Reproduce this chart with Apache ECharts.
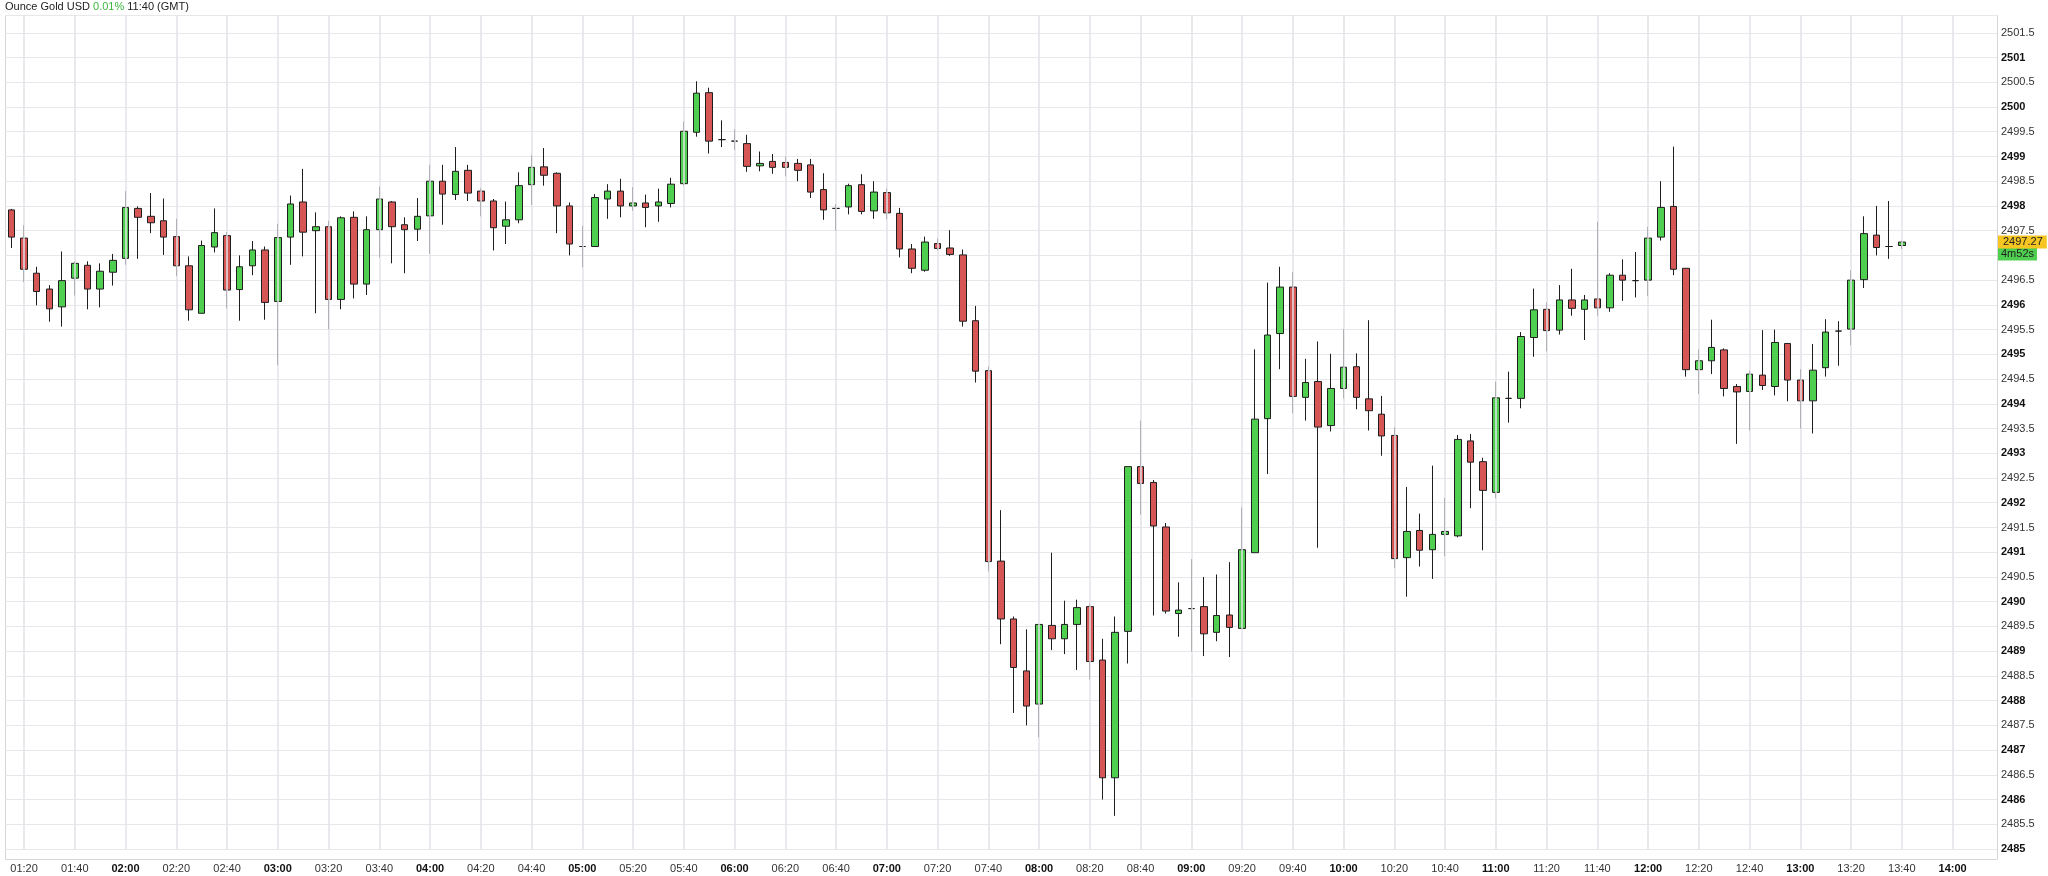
<!DOCTYPE html>
<html>
<head>
<meta charset="utf-8">
<script src="https://cdn.jsdelivr.net/npm/echarts@6/dist/echarts.min.js"></script>
<style>
  html, body { margin: 0; padding: 0; background: #fff; }
  #chart { width: 2048px; height: 876px; }
</style>
</head>
<body>
<div id="chart"></div>
<script>
// 5 minute candles, 01:15 .. 13:40 (GMT)
const opens = [
  2497.92, 2497.35, 2496.64, 2496.32, 2495.96, 2496.54, 2496.80, 2496.32, 2496.66, 2496.94,
  2497.95, 2497.79, 2497.70, 2497.38, 2496.79, 2495.83, 2497.17, 2497.40, 2496.31, 2496.79,
  2497.11, 2496.07, 2497.37, 2498.08, 2497.50, 2497.58, 2496.11, 2497.77, 2496.42, 2497.52,
  2498.08, 2497.62, 2497.53, 2497.80, 2498.50, 2498.23, 2498.72, 2498.30, 2498.10, 2497.59,
  2497.72, 2498.43, 2498.79, 2498.66, 2498.00, 2497.18, 2497.18, 2498.14, 2498.30, 2498.00,
  2498.06, 2498.00, 2498.05, 2498.45, 2499.49, 2500.29, 2499.34, 2499.31, 2499.26, 2498.81,
  2498.90, 2498.88, 2498.86, 2498.83, 2498.33, 2497.95, 2497.98, 2498.43, 2497.90, 2498.27,
  2497.85, 2497.13, 2496.70, 2497.24, 2497.15, 2497.01, 2495.68, 2494.67, 2490.82, 2489.65,
  2488.60, 2487.93, 2489.52, 2489.25, 2489.54, 2489.90, 2488.82, 2486.44, 2489.40, 2492.73,
  2492.41, 2491.51, 2489.76, 2489.86, 2489.90, 2489.38, 2489.73, 2489.46, 2490.99, 2493.70,
  2495.42, 2496.36, 2494.13, 2494.45, 2493.56, 2494.31, 2494.75, 2494.10, 2493.79, 2493.36,
  2490.89, 2491.44, 2491.05, 2491.36, 2491.33, 2493.25, 2492.83, 2492.21, 2494.11, 2494.11,
  2495.34, 2495.91, 2495.49, 2496.10, 2495.91, 2496.12, 2495.94, 2496.60, 2496.49, 2496.50,
  2497.37, 2497.99, 2496.74, 2494.69, 2494.87, 2495.09, 2494.35, 2494.25, 2494.58, 2494.35,
  2495.22, 2494.48, 2494.06, 2494.73, 2495.47, 2495.51, 2496.51, 2497.41, 2497.18, 2497.20
];
const closes = [
  2497.37, 2496.72, 2496.27, 2495.92, 2496.49, 2496.84, 2496.32, 2496.68, 2496.90, 2497.97,
  2497.77, 2497.66, 2497.37, 2496.79, 2495.90, 2497.20, 2497.46, 2496.30, 2496.77, 2497.11,
  2496.05, 2497.36, 2498.04, 2497.47, 2497.58, 2496.11, 2497.76, 2496.42, 2497.52, 2498.14,
  2497.58, 2497.52, 2497.79, 2498.50, 2498.24, 2498.70, 2498.26, 2498.10, 2497.56, 2497.72,
  2498.41, 2498.78, 2498.62, 2498.00, 2497.23, 2497.18, 2498.17, 2498.30, 2498.00, 2498.06,
  2497.97, 2498.08, 2498.44, 2499.51, 2500.28, 2499.31, 2499.34, 2499.31, 2498.80, 2498.86,
  2498.78, 2498.78, 2498.72, 2498.28, 2497.92, 2497.95, 2498.41, 2497.89, 2498.28, 2497.86,
  2497.13, 2496.74, 2497.27, 2497.14, 2497.02, 2495.67, 2494.66, 2490.81, 2489.65, 2488.67,
  2487.89, 2489.54, 2489.25, 2489.54, 2489.88, 2488.79, 2486.44, 2489.38, 2492.73, 2492.39,
  2491.53, 2489.81, 2489.83, 2489.86, 2489.35, 2489.72, 2489.48, 2491.05, 2493.69, 2495.39,
  2496.36, 2494.15, 2494.43, 2493.53, 2494.31, 2494.74, 2494.13, 2493.86, 2493.35, 2490.87,
  2491.42, 2491.04, 2491.36, 2491.42, 2493.28, 2492.82, 2492.25, 2494.12, 2494.11, 2495.36,
  2495.90, 2495.48, 2496.10, 2495.93, 2496.10, 2495.94, 2496.60, 2496.50, 2496.49, 2497.35,
  2497.97, 2496.72, 2494.69, 2494.87, 2495.14, 2494.31, 2494.24, 2494.60, 2494.37, 2495.24,
  2494.48, 2494.06, 2494.68, 2495.45, 2495.47, 2496.50, 2497.44, 2497.16, 2497.18, 2497.27
];
const lows = [
  2497.15, 2496.46, 2495.99, 2495.66, 2495.56, 2496.19, 2495.91, 2495.95, 2496.39, 2496.81,
  2496.93, 2497.45, 2497.01, 2496.58, 2495.68, 2495.83, 2497.06, 2495.93, 2495.68, 2496.60,
  2495.70, 2494.78, 2496.81, 2496.98, 2495.83, 2495.51, 2495.91, 2496.13, 2496.20, 2496.96,
  2496.84, 2496.64, 2497.29, 2497.03, 2497.62, 2498.12, 2498.10, 2497.79, 2497.10, 2497.23,
  2497.65, 2498.02, 2498.41, 2497.45, 2497.00, 2496.76, 2497.17, 2497.74, 2497.77, 2497.90,
  2497.57, 2497.68, 2497.97, 2498.41, 2499.40, 2499.06, 2499.19, 2499.13, 2498.69, 2498.70,
  2498.65, 2498.60, 2498.50, 2498.16, 2497.72, 2497.50, 2497.83, 2497.83, 2497.74, 2497.73,
  2496.96, 2496.64, 2496.67, 2497.10, 2496.99, 2495.56, 2494.43, 2490.61, 2489.14, 2487.75,
  2487.50, 2487.26, 2489.02, 2488.94, 2488.62, 2488.43, 2486.00, 2485.67, 2488.75, 2491.76,
  2489.72, 2489.76, 2489.29, 2488.99, 2488.90, 2489.20, 2488.88, 2489.44, 2490.99, 2492.58,
  2494.70, 2493.81, 2493.66, 2491.09, 2493.44, 2494.11, 2493.89, 2493.46, 2492.95, 2490.68,
  2490.10, 2490.71, 2490.46, 2490.92, 2491.30, 2491.89, 2491.04, 2492.09, 2493.62, 2493.91,
  2494.95, 2495.06, 2495.40, 2495.78, 2495.29, 2495.78, 2495.86, 2496.08, 2496.15, 2496.18,
  2497.30, 2496.60, 2494.55, 2494.20, 2494.60, 2494.15, 2493.19, 2493.46, 2494.28, 2494.17,
  2494.05, 2493.50, 2493.40, 2494.55, 2494.77, 2495.18, 2496.34, 2497.00, 2496.93, 2497.13
];
const highs = [
  2497.94, 2497.61, 2496.77, 2496.40, 2497.08, 2496.88, 2496.88, 2496.84, 2497.03, 2498.30,
  2497.99, 2498.26, 2498.15, 2497.74, 2496.98, 2497.30, 2497.95, 2497.47, 2497.00, 2497.29,
  2497.18, 2497.64, 2498.21, 2498.75, 2497.87, 2497.70, 2497.79, 2497.89, 2497.79, 2498.39,
  2498.10, 2497.77, 2498.16, 2498.83, 2498.83, 2499.19, 2498.83, 2498.36, 2498.14, 2498.09,
  2498.68, 2499.03, 2499.17, 2498.68, 2498.07, 2497.60, 2498.24, 2498.44, 2498.55, 2498.38,
  2498.23, 2498.35, 2498.57, 2499.71, 2500.52, 2500.39, 2499.73, 2499.55, 2499.44, 2499.10,
  2499.05, 2499.00, 2498.95, 2498.95, 2498.66, 2498.04, 2498.45, 2498.64, 2498.50, 2498.35,
  2497.96, 2497.23, 2497.38, 2497.34, 2497.51, 2497.12, 2495.98, 2494.75, 2491.85, 2489.70,
  2489.44, 2489.54, 2490.99, 2490.02, 2490.04, 2489.96, 2489.25, 2489.70, 2492.73, 2493.66,
  2492.46, 2491.59, 2490.39, 2490.86, 2490.50, 2490.55, 2490.80, 2491.90, 2495.10, 2496.45,
  2496.77, 2496.66, 2494.91, 2495.26, 2495.01, 2495.51, 2495.02, 2495.69, 2494.16, 2493.53,
  2492.32, 2491.78, 2492.75, 2492.10, 2493.37, 2493.39, 2492.91, 2494.45, 2494.65, 2495.45,
  2496.33, 2496.05, 2496.40, 2496.73, 2496.20, 2497.68, 2496.64, 2496.92, 2497.07, 2497.58,
  2498.50, 2499.20, 2496.74, 2495.10, 2495.70, 2495.12, 2494.40, 2494.67, 2495.49, 2495.50,
  2495.22, 2494.70, 2495.21, 2495.71, 2495.67, 2496.70, 2497.79, 2498.00, 2498.10, 2497.30
];

const lastPrice = 2497.27;
const timerPrice = 2497.03;

// x categories: 01:15 .. 14:15 every 5 minutes
const times = [];
for (let m = 75; m <= 855; m += 5) {
  const h = Math.floor(m / 60), mm = m % 60;
  times.push((h < 10 ? "0" : "") + h + ":" + (mm < 10 ? "0" : "") + mm);
}
const gridTimes = times.filter(t => t.slice(3) % 20 === 0);

const candles = opens.map((o, i) => [o, closes[i], lows[i], highs[i]]);

const chart = echarts.init(document.getElementById("chart"));
const font = "'Liberation Sans', Arial, sans-serif";

function tag(price, text, bg, pad) {
  return {
    yAxis: price,
    lineStyle: { color: "rgba(0,0,0,0)", width: 0 },
    label: {
      show: true,
      position: "end",
      distance: 1,
      formatter: text,
      backgroundColor: bg,
      color: "#222",
      fontSize: 11,
      fontFamily: font,
      padding: pad
    }
  };
}

chart.setOption({
  animation: false,
  grid: { left: 5, right: 51, top: 15, bottom: 27, show: false },
  graphic: [
    {
      type: "rect",
      shape: { x: 5.5, y: 15.5, width: 1992, height: 844 },
      style: { fill: "none", stroke: "#d6d6d6", lineWidth: 1 },
      silent: true
    },
    {
      type: "text",
      left: 5,
      top: 1,
      style: {
        text: "{a|Ounce Gold USD }{g|0.01%}{a| 11:40 (GMT)}",
        rich: {
          a: { fontSize: 11, fontFamily: font, fill: "#222" },
          g: { fontSize: 11, fontFamily: font, fill: "#3cb83c" }
        }
      }
    }
  ],
  xAxis: {
    type: "category",
    data: times,
    boundaryGap: true,
    axisLine: { show: false },
    axisTick: { show: false },
    splitLine: { show: false },
    axisLabel: {
      margin: 14,
      fontSize: 11,
      fontFamily: font,
      color: "#333",
      interval: (i, v) => v.slice(3) % 20 === 0,
      formatter: v => (v.slice(3) === "00" ? "{b|" + v + "}" : v),
      rich: { b: { fontWeight: "bold", fontSize: 11, fontFamily: font, color: "#111" } }
    }
  },
  yAxis: {
    type: "value",
    position: "right",
    min: 2485,
    max: 2501.86,
    interval: 0.5,
    axisLine: { show: false },
    axisTick: { show: false },
    splitLine: { lineStyle: { color: "#e8e8ec", width: 1 } },
    axisLabel: {
      margin: 4,
      fontSize: 11,
      fontFamily: font,
      color: "#333",
      formatter: v => {
        const r = Math.round(v * 2) / 2;
        if (Math.abs(r - v) > 0.001) return "";
        return r % 1 === 0 ? "{b|" + r + "}" : r.toFixed(1);
      },
      rich: { b: { fontWeight: "bold", fontSize: 11, fontFamily: font, color: "#111" } }
    }
  },
  series: [
    {
      type: "candlestick",
      data: candles,
      barWidth: 7,
      clip: false,
      itemStyle: {
        color: "#4fcf4f",
        color0: "#d65656",
        borderColor: "#1e1e1e",
        borderColor0: "#1e1e1e",
        borderWidth: 1
      },
      markLine: {
        silent: true,
        symbol: "none",
        animation: false,
        data: gridTimes.map(t => ({
          xAxis: t,
          lineStyle: { color: "#e3e3e8", width: 1.5, type: "solid" },
          label: { show: false }
        }))
      }
    },
    {
      type: "line",
      data: [],
      markLine: {
        silent: true,
        symbol: "none",
        animation: false,
        data: [
          tag(timerPrice, "4m52s", "#4fcf4f", [1, 3, 1, 3]),
          tag(lastPrice, "2497.27", "#f5c622", [1, 4, 1, 5])
        ]
      }
    }
  ]
});
</script>
</body>
</html>
